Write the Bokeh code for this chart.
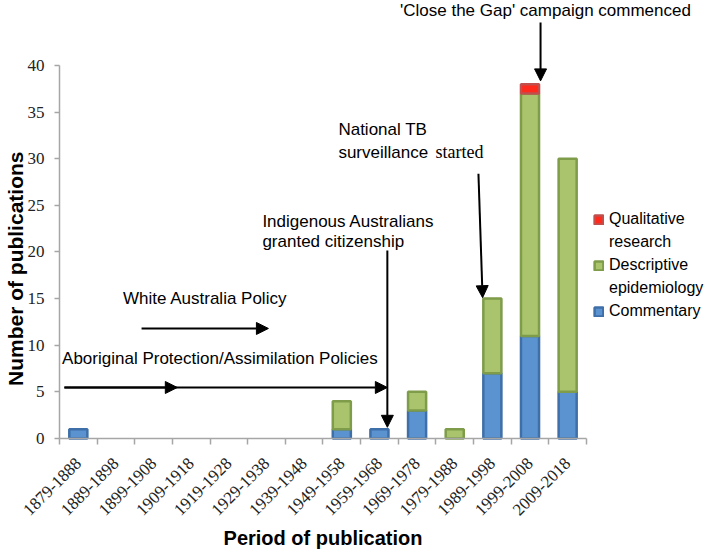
import math
from bokeh.plotting import figure
from bokeh.models import Range1d, FixedTicker, Arrow, NormalHead, Label, Legend, LegendItem
from bokeh.embed import file_html
from bokeh.resources import INLINE

# ---------------- data ----------------
periods = ["1879-1888", "1889-1898", "1899-1908", "1909-1918", "1919-1928",
           "1929-1938", "1939-1948", "1949-1958", "1959-1968", "1969-1978",
           "1979-1988", "1989-1998", "1999-2008", "2009-2018"]
commentary = [1, 0, 0, 0, 0, 0, 0, 1, 1, 3, 0, 7, 11, 5]
descriptive = [0, 0, 0, 0, 0, 0, 0, 3, 0, 2, 1, 8, 26, 25]
qualitative = [0, 0, 0, 0, 0, 0, 0, 0, 0, 0, 0, 0, 1, 0]
y_ticks = [0, 5, 10, 15, 20, 25, 30, 35, 40]
series_labels = [["Commentary"], ["Descriptive", "epidemiology"], ["Qualitative", "research"]]

# ---------------- styles ----------------
fills = ["#5B93D1", "#A9C46C", "#FF2A1C"]
lines = ["#3F6FA8", "#7E9C4A", "#C0504D"]
AXIS_GREY = "#A6A6A6"
SANS = "Liberation Sans"
SERIF = "Liberation Serif"

n = len(periods)
xpos = [i + 0.5 for i in range(n)]
y_max = y_ticks[-1]

# whole canvas is the frame; axes are pinned at 0 so that the
# annotations above and to the right of the bars are not clipped
p = figure(width=708, height=552,
           x_range=Range1d(-1.5675, 17.242), y_range=Range1d(-12.225, 46.97),
           output_backend="svg", toolbar_location=None, min_border=0)
p.outline_line_color = None
p.grid.visible = False
p.background_fill_color = "white"

# stacked bars (only non-zero segments)
base = [0] * n
renderers = []
for vals, fc, lc in zip([commentary, descriptive, qualitative], fills, lines):
    xs, bottoms, tops = [], [], []
    for i, v in enumerate(vals):
        if v > 0:
            xs.append(xpos[i])
            bottoms.append(base[i])
            tops.append(base[i] + v)
        base[i] += v
    r = p.vbar(x=xs, bottom=bottoms, top=tops, width=0.48,
               fill_color=fc, line_color=lc, line_width=2.5)
    renderers.append(r)
totals = base

# ---------------- axes ----------------
xa = p.xaxis[0]
xa.fixed_location = 0
xa.bounds = (0, n)
xa.ticker = FixedTicker(ticks=xpos, minor_ticks=list(range(n + 1)))
xa.major_label_overrides = {x: lab for x, lab in zip(xpos, periods)}
xa.major_tick_line_color = None
xa.major_tick_out = 0
xa.major_tick_in = 0
xa.minor_tick_line_color = AXIS_GREY
xa.minor_tick_line_width = 1.5
xa.minor_tick_out = 6
xa.minor_tick_in = 0
xa.axis_line_color = AXIS_GREY
xa.axis_line_width = 1.5
xa.major_label_orientation = math.pi / 4
xa.major_label_text_font = SERIF
xa.major_label_text_font_size = "17px"
xa.major_label_text_color = "#222222"
xa.major_label_standoff = 16

ya = p.yaxis[0]
ya.fixed_location = 0
ya.bounds = (0, y_max)
ya.ticker = FixedTicker(ticks=y_ticks, minor_ticks=[])
ya.major_tick_line_color = AXIS_GREY
ya.major_tick_line_width = 1.5
ya.major_tick_out = 5
ya.major_tick_in = 0
ya.minor_tick_line_color = None
ya.axis_line_color = AXIS_GREY
ya.axis_line_width = 1.5
ya.major_label_text_font = SERIF
ya.major_label_text_font_size = "17px"
ya.major_label_text_color = "#222222"
ya.major_label_standoff = 10

# axis titles
p.add_layout(Label(x=n / 2, y=-10.62, text="Period of publication",
                   text_font=SANS, text_font_style="bold", text_font_size="20px",
                   text_align="center", text_baseline="middle", text_color="black"))
p.add_layout(Label(x=-1.17, y=18.2, text="Number of publications", angle=math.pi / 2,
                   text_font=SANS, text_font_style="bold", text_font_size="21px",
                   text_align="center", text_baseline="middle", text_color="black"))

# ---------------- annotations ----------------
def arrow(x0, y0, x1, y1):
    p.add_layout(Arrow(x_start=x0, y_start=y0, x_end=x1, y_end=y1,
                       line_color="black", line_width=2,
                       end=NormalHead(size=12, fill_color="black",
                                      line_color="black", line_width=1)))

def label(x, y, text, align="left", baseline="middle", font=SANS, size="17px", x_offset=0):
    p.add_layout(Label(x=x, y=y, text=text, text_font=font, text_font_size=size,
                       text_align=align, text_baseline=baseline,
                       text_color="black", x_offset=x_offset))

i_gap = periods.index("1999-2008")
i_tb = periods.index("1989-1998")
i_cit = periods.index("1959-1968")

# Close the Gap
label(12.91, 45.85, "'Close the Gap' campaign commenced", align="center")
arrow(xpos[i_gap] + 0.28, 44.6, xpos[i_gap] + 0.28, totals[i_gap] + 0.35)

# National TB surveillance
label(7.41, 33.1, "National TB")
label(7.41, 30.67, "surveillance")
label(7.41, 30.67, "started", font=SERIF, size="18px", x_offset=97)
arrow(11.13, 28.4, xpos[i_tb] - 0.26, totals[i_tb] + 0.1)

# Citizenship
label(5.39, 23.27, "Indigenous Australians")
label(5.39, 21.13, "granted citizenship")
arrow(xpos[i_cit] + 0.21, 20.16, xpos[i_cit] + 0.21, totals[i_cit] + 0.2)

# White Australia Policy
label(3.87, 15.0, "White Australia Policy", align="center")
arrow(2.18, 11.8, 5.55, 11.8)

# Aboriginal Protection
label(4.26, 8.58, "Aboriginal Protection/Assimilation Policies", align="center")
arrow(0.13, 5.47, 3.13, 5.47)
arrow(0.13, 5.47, xpos[i_cit] + 0.21, 5.47)

# ---------------- legend ----------------
items = []
for idx in (2, 1, 0):
    first, *rest = series_labels[idx]
    items.append(LegendItem(label=first, renderers=[renderers[idx]]))
    for line in rest:
        items.append(LegendItem(label=line, renderers=[]))

legend = Legend(items=items,
                location=(593, 231), orientation="vertical",
                glyph_width=11, glyph_height=11, label_standoff=5,
                label_height=20, spacing=3, padding=0, margin=0,
                border_line_color=None, background_fill_alpha=0,
                label_text_font=SANS, label_text_font_size="16px",
                label_text_color="black")
p.add_layout(legend)

open("out.html", "w").write(file_html(p, INLINE))
